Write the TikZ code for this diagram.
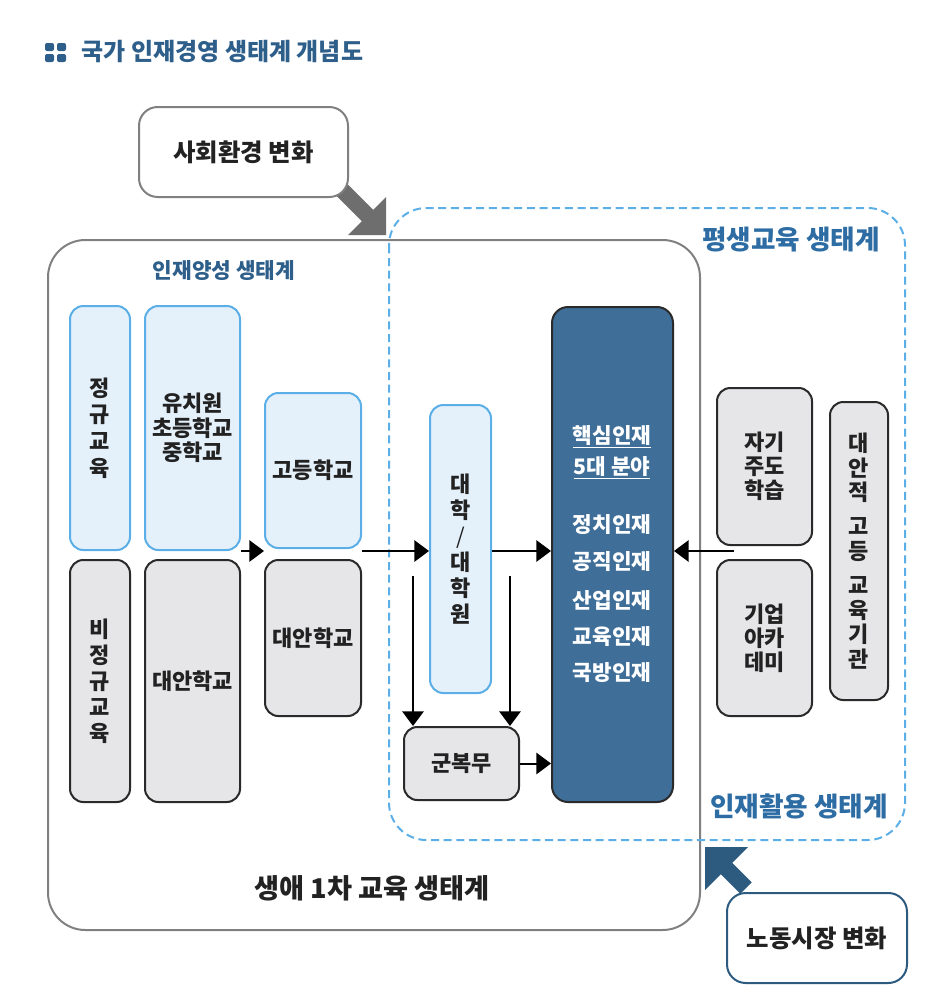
\documentclass[tikz,border=0pt]{standalone}
\usepackage{fontspec}
\setmainfont{Noto Sans CJK KR}
\usetikzlibrary{arrows.meta,calc}
\definecolor{ttl}{HTML}{2E5F8A}
\definecolor{lblue}{HTML}{2E6DA4}
\definecolor{lfill}{HTML}{E4F1FB}
\definecolor{lbord}{HTML}{5BAEE6}
\definecolor{gfill}{HTML}{E6E6E8}
\definecolor{gbord}{HTML}{2A2A2A}
\definecolor{core}{HTML}{3F6F99}
\definecolor{frame}{HTML}{808080}
\definecolor{garrow}{HTML}{6E6E6E}
\definecolor{navy}{HTML}{2D5B80}
\definecolor{txt}{HTML}{222222}
\newcommand\bx[7]{\node[#2, minimum width={(#5-#3)*0.75pt}, minimum height={(#6-#4)*0.75pt}] (#1) at ({(#3+#5)/2},{(#4+#6)/2}) {#7};}
\newcommand\fz[2]{\fontsize{#1}{#2}\selectfont\bfseries}
\begin{document}
\begin{tikzpicture}[x=0.75pt,y=-0.75pt,
  base/.style={line width=1.5pt, rounded corners=10pt, inner sep=0pt, align=center, text=txt, font=\fz{16.5}{20}},
  bluebox/.style={base, draw=lbord, fill=lfill},
  graybox/.style={base, draw=gbord, fill=gfill},
  outbox/.style={base, fill=white, rounded corners=14pt, font=\fz{18.3}{22}},
  arr/.style={line width=1.5pt, draw=black, -{Triangle[length=11pt,width=16pt]}},
  lab/.style={font=\fz{20}{24}, text=lblue},
  ctext/.style={text=white, font=\fz{16}{19}}
]
\useasboundingbox (0,0) rectangle (939,1007);
% title
\foreach \xx/\yy in {45/43,57/43,45/54,57/54}
  \fill[ttl, rounded corners=1.5pt] (\xx,\yy) rectangle ++(9,8);
\node[anchor=west, font=\fz{18}{22}, text=ttl] (title) at (77,52) {국가 인재경영 생태계 개념도};

% grey arrow (society)
\fill[garrow] (386,235) -- (386,197) -- (373.2,209.8) -- (345.7,182.3) -- (334.3,193.7) -- (361.8,221.2) -- (348,235) -- cycle;
\bx{soc}{outbox, draw=frame}{139}{107}{348}{197}{사회환경 변화}

% big frames
\draw[frame, line width=1.5pt, rounded corners=28pt] (48,240) rectangle (700,930);
\draw[lbord, line width=1.5pt, dash pattern=on 6pt off 3.5pt, rounded corners=28pt] (389,208) rectangle (905,840);

\node[lab] (lifelong) at (791,240) {평생교육 생태계};
\node[lab] (use) at (799,806) {인재활용 생태계};
\node[font=\fz{16}{19}, text=ttl] (train) at (224,271) {인재양성 생태계};
\node[font=\fz{20.4}{24}, text=txt] (first) at (372,888) {생애 1차 교육 생태계};

% left column boxes
\bx{reg}{bluebox}{70}{306}{130}{550}{정\\규\\교\\육}
\bx{prim}{bluebox, font=\fz{16.5}{18.4}}{145}{306}{240}{550}{유치원\\초등학교\\중학교}
\bx{hs}{bluebox}{265}{393}{361}{548}{고등학교}
\bx{nreg}{graybox, font=\fz{16.5}{19.5}}{70}{560}{130}{802}{비\\정\\규\\교\\육}
\bx{alt1}{graybox}{145}{560}{240}{802}{대안학교}
\bx{alt2}{graybox}{265}{560}{361}{716}{대안학교}

% university & military
\bx{univ}{bluebox, font=\fz{16.5}{19.5}}{430}{405}{491}{693}{대\\학\\{\fontseries{m}\selectfont /}\\대\\학\\원}
\bx{mil}{graybox}{404}{727}{519}{800}{군복무}

% core
\bx{core}{base, draw=gbord, fill=core, rounded corners=12pt}{552}{307}{673}{802}{}
\node[ctext] (c1) at (612,437) {\underline{핵심인재}};
\node[ctext] (c2) at (612,468) {\underline{5대 분야}};
\node[ctext] (c3) at (612,525) {정치인재};
\node[ctext] (c4) at (612,562) {공직인재};
\node[ctext] (c5) at (612,600) {산업인재};
\node[ctext] (c6) at (612,637) {교육인재};
\node[ctext] (c7) at (612,673) {국방인재};

% right boxes
\bx{self}{graybox, font=\fz{16.5}{18}}{717}{388}{812}{545}{자기\\주도\\학습}
\bx{corp}{graybox, font=\fz{16.5}{18}}{717}{560}{812}{716}{기업\\아카\\데미}
\bx{altH}{graybox, font=\fz{16.5}{18.5}}{830}{402}{888}{700}{대\\안\\적\\[7pt]고\\등\\[7pt]교\\육\\기\\관}

% arrows
\coordinate (row) at (0,551);
\draw[arr] (prim.east |- row) -- (hs.west |- row);
\draw[arr] (hs.east |- row) -- (univ.west |- row);
\draw[arr] (univ.east |- row) -- (core.west |- row);
\draw[arr] ($(self.west |- row)+(18,0)$) -- (core.east |- row);
\draw[arr] ($(mil.north west)+(10,-150)$) -- ($(mil.north west)+(10,0)$);
\draw[arr] ($(mil.north east)+(-10,-150)$) -- ($(mil.north east)+(-10,0)$);
\draw[arr] (mil.east) -- (core.west |- mil.east);

% navy arrow (labour market)
\fill[navy] (705,847) -- (748,847) -- (732.2,862.8) -- (751.7,882.3) -- (740.3,893.7) -- (720.8,874.2) -- (705,890) -- cycle;
\bx{labor}{outbox, draw=navy}{727}{893}{907}{983}{노동시장 변화}
\end{tikzpicture}
\end{document}
